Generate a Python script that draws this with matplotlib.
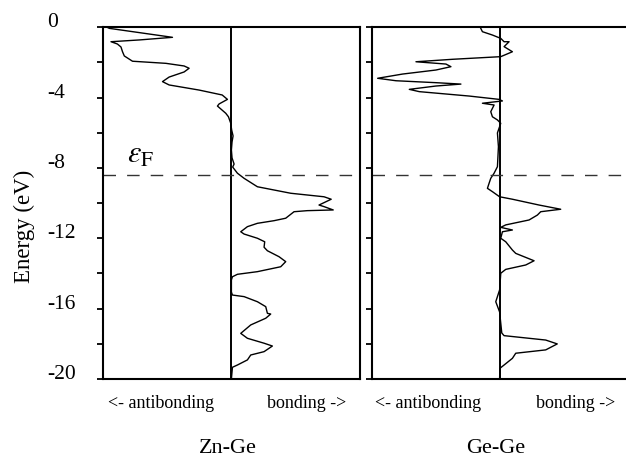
import numpy as np
import matplotlib
matplotlib.use('Agg')
import matplotlib.pyplot as plt

plt.rcParams['font.family'] = ['Liberation Serif', 'DejaVu Serif']
plt.rcParams['mathtext.fontset'] = 'stix'
plt.rcParams['axes.unicode_minus'] = False

# -COHP curves (arbitrary units, panel half width = 1)
energy_zn = [0.0, -0.06, -0.57, -0.72, -0.82, -0.95, -1.12, -1.39, -1.63, -1.93,
             -2.05, -2.20, -2.33, -2.54, -2.83, -3.09, -3.28, -3.57, -3.85, -4.10,
             -4.36, -4.48, -4.89, -5.09, -5.46, -5.84, -6.18, -6.52, -6.98, -7.43,
             -7.78, -7.95, -8.30, -8.59, -9.07, -9.44, -9.64, -9.78, -10.11, -10.20,
             -10.39, -10.43, -10.49, -10.86, -11.00, -11.15, -11.34, -11.63, -11.76, -12.00,
             -12.20, -12.51, -12.71, -13.05, -13.33, -13.62, -13.90, -14.05, -14.19, -14.37,
             -15.06, -15.23, -15.32, -15.61, -15.89, -16.27, -16.31, -16.55, -16.93, -17.41,
             -17.69, -17.97, -18.13, -18.45, -18.64, -18.92, -19.21, -19.34, -20.0]
cohp_zn = [-0.97, -0.953, -0.46, -0.72, -0.94, -0.89, -0.862, -0.85, -0.836, -0.772,
           -0.511, -0.369, -0.33, -0.369, -0.486, -0.538, -0.486, -0.252, -0.072, -0.031,
           -0.096, -0.109, -0.044, -0.023, -0.005, 0.002, 0.013, 0.005, 0.0, 0.005,
           0.021, 0.01, 0.047, 0.099, 0.203, 0.463, 0.723, 0.779, 0.684, 0.723,
           0.795, 0.592, 0.489, 0.424, 0.333, 0.203, 0.125, 0.073, 0.099, 0.203,
           0.26, 0.255, 0.281, 0.372, 0.424, 0.385, 0.203, 0.047, 0.008, 0.0,
           0.0, 0.008, 0.099, 0.203, 0.268, 0.281, 0.307, 0.268, 0.151, 0.073,
           0.125, 0.255, 0.32, 0.255, 0.151, 0.125, 0.047, 0.008, 0.0]

energy_ge = [-0.06, -0.25, -0.44, -0.63, -0.82, -0.82, -1.10, -1.39, -1.67, -1.82,
             -1.96, -2.09, -2.24, -2.43, -2.66, -2.90, -3.04, -3.15, -3.23, -3.34,
             -3.53, -3.66, -3.91, -4.10, -4.19, -4.32, -4.42, -4.80, -5.09, -5.27,
             -5.46, -6.01, -6.79, -7.93, -8.30, -8.59, -8.87, -9.16, -9.35, -9.64,
             -9.78, -10.11, -10.35, -10.49, -10.68, -10.96, -11.24, -11.38, -11.53, -11.63,
             -12.00, -12.20, -12.67, -12.86, -13.28, -13.52, -13.77, -13.99, -14.94, -15.61,
             -16.19, -17.39, -17.54, -17.79, -18.01, -18.35, -18.54, -18.83, -19.21, -19.40,
             -20.0]
cohp_ge = [-0.147, -0.134, -0.056, 0.009, 0.035, 0.074, 0.035, 0.1, 0.009, -0.368,
           -0.653, -0.419, -0.38, -0.497, -0.758, -0.952, -0.809, -0.497, -0.302, -0.497,
           -0.705, -0.627, -0.238, -0.004, 0.022, -0.134, -0.043, -0.069, -0.056, -0.017,
           0.009, -0.017, -0.009, -0.017, -0.043, -0.069, -0.082, -0.095, -0.056, 0.0,
           0.1, 0.308, 0.477, 0.321, 0.295, 0.23, 0.048, 0.009, 0.1, 0.022,
           0.009, 0.048, 0.1, 0.126, 0.269, 0.204, 0.048, 0.009, 0.0, -0.03,
           0.0, 0.017, 0.035, 0.36, 0.45, 0.36, 0.126, 0.1, 0.035, 0.002,
           0.0]

fermi_level = -8.40
energy_ticks = [0, -2, -4, -6, -8, -10, -12, -14, -16, -18, -20]
tick_labels = ['0', '', '-4', '', '-8', '', '-12', '', '-16', '', '-20']
bond_names = ['Zn-Ge', 'Ge-Ge']

W, H = 626, 459
fig = plt.figure(figsize=(W / 100, H / 100), dpi=100)


def px(x, y):
    # pixel position -> figure fraction
    return x / W, 1 - y / H


panels = [
    (fig.add_axes([103.3 / W, 1 - 378.9 / H, 256.2 / W, 351.6 / H]), energy_zn, cohp_zn),
    (fig.add_axes([371.5 / W, 1 - 378.9 / H, 256.2 / W, 351.6 / H]), energy_ge, cohp_ge),
]

for i, (ax, energy, cohp) in enumerate(panels):
    ax.plot(cohp, energy, color='black', lw=1.0, solid_joinstyle='round')
    ax.axvline(0, color='black', lw=1.4)
    ax.axhline(fermi_level, color='#333333', lw=1.0, linestyle=(0, (9, 8)))
    ax.set_xlim(-1, 1)
    ax.set_ylim(-20, 0)
    ax.set_xticks([])
    ax.set_yticks(energy_ticks)
    for s in ax.spines.values():
        s.set_linewidth(1.5)
    ax.tick_params(axis='y', direction='out', length=4.3, width=1.3, pad=36.2)
    if i == 0:
        ax.set_yticklabels(tick_labels, fontsize=15.5)
        for lab in ax.get_yticklabels():
            lab.set_horizontalalignment('left')
            lab.set_verticalalignment('baseline')
    else:
        ax.set_yticklabels([])

fig.text(*px(24, 226), 'Energy (eV)', rotation=90, ha='center', va='center', fontsize=16.5)
fig.text(*px(127, 163), r'$\varepsilon_{\mathrm{F}}$', ha='left', va='baseline', fontsize=22)

# bonding / antibonding hints and bond names below each panel
for cx in [161, 428.5]:
    fig.text(*px(cx, 407.5), '<- antibonding', ha='center', va='baseline', fontsize=13)
for cx in [306.7, 576]:
    fig.text(*px(cx, 407.5), 'bonding ->', ha='center', va='baseline', fontsize=13)
for cx, name in zip([227.5, 496], bond_names):
    fig.text(*px(cx, 453), name, ha='center', va='baseline', fontsize=16)

fig.savefig('out.png', dpi=100)
